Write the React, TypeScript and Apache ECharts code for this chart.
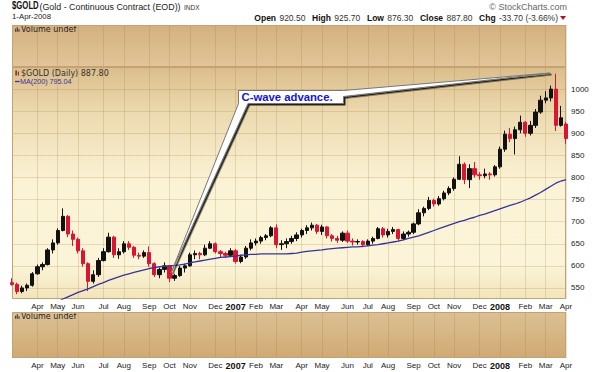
import React, { useEffect, useRef } from 'react';
import * as echarts from 'echarts';

// ---- categories: one per trading week, starting Monday 2006-02-27 ----
const START_UTC = Date.UTC(2006, 1, 27);
const WEEK_COUNT = 110;
const DAY = 86400000;
const MONTH_NAMES = ['Jan', 'Feb', 'Mar', 'Apr', 'May', 'Jun', 'Jul', 'Aug', 'Sep', 'Oct', 'Nov', 'Dec'];
const weekCategories: string[] = Array.from({ length: WEEK_COUNT }, (_, i) =>
  new Date(START_UTC + i * 7 * DAY).toISOString().slice(0, 10)
);

// ---- weekly OHLC ----
const opens = [
  562, 558, 542, 550, 556, 582, 598, 603, 636, 652, 680, 712, 672, 660, 634, 605, 565, 580, 612, 632,
  665, 625, 632, 650, 642, 624, 622, 630, 605, 580, 592, 600, 572, 578, 595, 600, 625, 628, 625, 640,
  650, 632, 628, 624, 634, 610, 620, 640, 652, 656, 664, 668, 686, 648, 650, 655, 662, 670, 680, 686,
  692, 678, 688, 668, 662, 658, 674, 656, 654, 655, 648, 656, 662, 684, 670, 678, 682, 662, 672, 676,
  695, 720, 730, 748, 740, 752, 765, 775, 796, 830, 795, 820, 806, 804, 808, 806, 824, 864, 898, 888,
  908, 925, 900, 918, 948, 975, 980, 1000, 918, 921,
];
const closes = [
  558, 542, 550, 556, 582, 598, 603, 636, 652, 680, 712, 672, 660, 634, 605, 565, 580, 612, 632, 665,
  625, 632, 650, 642, 624, 622, 630, 605, 580, 592, 600, 572, 578, 595, 600, 625, 628, 625, 640, 650,
  632, 628, 624, 634, 610, 620, 640, 652, 656, 664, 668, 686, 648, 650, 655, 662, 670, 680, 686, 692,
  678, 688, 668, 662, 658, 674, 656, 654, 655, 648, 656, 662, 684, 670, 678, 682, 662, 672, 676, 695,
  720, 730, 748, 740, 752, 765, 775, 796, 830, 795, 820, 806, 804, 808, 806, 824, 864, 898, 888, 908,
  925, 900, 918, 948, 975, 980, 1000, 918, 935, 888,
];
const lows = [
  555, 536, 538, 543, 553, 580, 590, 601, 628, 648, 678, 665, 645, 628, 598, 543, 560, 575, 610, 630,
  618, 616, 628, 636, 618, 615, 618, 598, 575, 572, 585, 563, 566, 575, 585, 598, 615, 615, 622, 638,
  628, 618, 618, 620, 605, 606, 616, 635, 646, 650, 658, 665, 640, 636, 640, 650, 656, 664, 672, 680,
  672, 670, 662, 655, 652, 654, 652, 646, 648, 642, 645, 650, 660, 664, 664, 672, 656, 658, 666, 672,
  692, 712, 726, 734, 736, 748, 760, 770, 794, 785, 776, 800, 795, 798, 795, 802, 820, 858, 880, 852,
  900, 892, 895, 912, 944, 968, 972, 905, 915, 876,
];
const highs = [
  572, 562, 555, 560, 586, 603, 608, 640, 660, 685, 730, 715, 680, 664, 640, 608, 590, 618, 640, 675,
  668, 640, 656, 656, 645, 630, 635, 644, 608, 596, 608, 602, 582, 600, 605, 630, 635, 632, 648, 656,
  653, 636, 632, 640, 638, 625, 645, 660, 662, 668, 672, 690, 694, 658, 662, 668, 676, 684, 692, 698,
  695, 693, 690, 672, 668, 678, 680, 662, 660, 658, 660, 666, 688, 688, 684, 688, 684, 678, 680, 698,
  728, 734, 756, 752, 758, 770, 780, 800, 848, 834, 830, 835, 812, 820, 812, 828, 870, 906, 912, 915,
  940, 928, 928, 955, 985, 995, 1008, 1035, 962, 926,
];
// 200-day moving average, sampled weekly (below 525 it is under the panel)
const ma200: (number | null)[] = [
  null, null, null, null, null, null, null, null, null, 518,
  525, 530, 535, 540, 544, 548, 553, 558, 562, 567,
  571, 575, 579, 582, 585, 588, 591, 594, 596, 598,
  599, 600, 601, 602, 604, 607, 609, 611, 613, 615,
  617, 619, 620, 621, 622, 624, 625, 626, 626, 627,
  627, 627, 627, 627, 627, 628, 629, 631, 633, 634,
  635, 636, 638, 639, 640, 641, 642, 643, 643, 644,
  645, 647, 648, 650, 652, 654, 656, 659, 662, 665,
  668, 672, 676, 680, 684, 688, 692, 696, 700, 703,
  707, 710, 714, 717, 721, 725, 729, 733, 737, 740,
  744, 749, 754, 760, 766, 773, 780, 787, 792, 795,
];

const HEADER_QUOTE = [
  ['Open', '920.50'],
  ['High', '925.70'],
  ['Low', '876.30'],
  ['Close', '887.80'],
  ['Chg', '-33.70 (-3.66%)'],
];

// month markers: the week whose Thursday first falls in a new month
const thu = (i: number) => new Date(START_UTC + (i * 7 + 3) * DAY);
const monthMark: string[] = weekCategories.map((_, i) => {
  if (i === 0) return '';
  const a = thu(i);
  const b = thu(i - 1);
  if (a.getUTCMonth() === b.getUTCMonth()) return '';
  return a.getUTCMonth() === 0 ? String(a.getUTCFullYear()) : MONTH_NAMES[a.getUTCMonth()];
});
const isMark = (idx: number) => monthMark[idx] !== '';

const SANS = '"Liberation Sans", Arial, sans-serif';
const VERD = '"DejaVu Sans", Verdana, sans-serif';

const PL = 12;
const PW = 554;
const TOP_VOL = { y: 25, h: 42 };
const MAIN = { y: 67, h: 232 };
const BOT_VOL = { y: 312, h: 46 };

export default function App() {
  const ref = useRef<HTMLDivElement>(null);
  useEffect(() => {
    if (!ref.current) return;
    const chart = echarts.init(ref.current, null, { renderer: 'svg' });
    const LG = echarts.graphic.LinearGradient;
    const gridColor = 'rgba(150,110,50,0.2)';

    const xBase = (gridIndex: number, showLabels: boolean) => ({
      type: 'category',
      gridIndex,
      data: weekCategories,
      boundaryGap: false,
      axisLine: { show: false },
      axisTick: { show: false },
      axisLabel: {
        show: showLabels,
        interval: (idx: number) => isMark(idx),
        formatter: (_v: string, idx: number) => {
          const m = monthMark[idx];
          return /^\d{4}$/.test(m) ? `{y|${m}}` : m;
        },
        margin: 3,
        fontSize: 8,
        fontFamily: SANS,
        color: '#222',
        rich: { y: { fontWeight: 'bold', fontSize: 9, fontFamily: SANS, color: '#111' } },
      },
      splitLine: {
        show: true,
        interval: (idx: number) => isMark(idx),
        lineStyle: { color: gridColor, width: 1 },
      },
    });

    const quoteRich: any = {
      b: { fontWeight: 'bold', fontSize: 8.5, fontFamily: SANS, fill: '#111' },
      v: { fontSize: 8.5, fontFamily: SANS, fill: '#333' },
    };
    const quoteText = HEADER_QUOTE.map(([k, v]) => `{b|${k}} {v|${v}}`).join('  ');

    const panelRect = (p: { y: number; h: number }, fill: any) => ({
      type: 'rect',
      z: -10,
      shape: { x: PL, y: p.y, width: PW, height: p.h },
      style: { fill },
      silent: true,
    });
    const panelBorder = (p: { y: number; h: number }) => ({
      type: 'rect',
      z: 1,
      shape: { x: PL + 0.5, y: p.y + 0.5, width: PW - 1, height: p.h - 1 },
      style: { fill: 'none', stroke: '#c4a272', lineWidth: 1 },
      silent: true,
    });

    const option: any = {
      animation: false,
      backgroundColor: '#ffffff',
      grid: [
        { left: PL, width: PW, top: TOP_VOL.y, height: TOP_VOL.h },
        { left: PL, width: PW, top: MAIN.y, height: MAIN.h },
        { left: PL, width: PW, top: BOT_VOL.y, height: BOT_VOL.h },
      ],
      xAxis: [xBase(0, false), xBase(1, true), xBase(2, true)],
      yAxis: [
        { type: 'value', gridIndex: 0, show: false },
        {
          type: 'value',
          gridIndex: 1,
          position: 'right',
          min: 525,
          max: 1050,
          interval: 25,
          axisLine: { show: false },
          axisTick: { show: false },
          axisLabel: {
            margin: 5,
            fontSize: 8,
            fontFamily: SANS,
            color: '#222',
            formatter: (v: number) => (v % 50 === 0 && v <= 1000 ? String(v) : ''),
          },
          splitLine: { show: true, lineStyle: { color: ['transparent', gridColor], width: 1 } },
        },
        { type: 'value', gridIndex: 2, show: false },
      ],
      series: [
        {
          type: 'candlestick',
          xAxisIndex: 1,
          yAxisIndex: 1,
          barWidth: 3.8,
          data: opens.map((o, i) => [o, closes[i], lows[i], highs[i]]),
          itemStyle: {
            color: '#111111',
            color0: '#dc1430',
            borderColor: '#111111',
            borderColor0: '#dc1430',
            borderWidth: 1,
          },
        },
        {
          type: 'line',
          xAxisIndex: 1,
          yAxisIndex: 1,
          data: ma200,
          showSymbol: false,
          clip: true,
          lineStyle: { color: '#34349c', width: 1.3 },
          z: 3,
        },
      ],
      graphic: [
        panelRect(TOP_VOL, new LG(0, 0, 0, 1, [
          { offset: 0, color: '#d4b07e' },
          { offset: 1, color: '#e1c699' },
        ])),
        panelRect(MAIN, new LG(0, 0, 0, 1, [
          { offset: 0, color: '#dbbd8b' },
          { offset: 0.2, color: '#ecdab0' },
          { offset: 0.5, color: '#fbf3d5' },
          { offset: 0.85, color: '#fbf4d8' },
          { offset: 1, color: '#f2e4bb' },
        ])),
        panelRect(BOT_VOL, new LG(0, 0, 0, 1, [
          { offset: 0, color: '#dcc194' },
          { offset: 1, color: '#cfa973' },
        ])),
        panelBorder(TOP_VOL),
        panelBorder(MAIN),
        panelBorder(BOT_VOL),
        // header
        {
          type: 'text', z: 10, x: 12, y: 6, scaleX: 0.74, scaleY: 1,
          style: { text: '$GOLD', fontSize: 10.5, fontWeight: 'bold', fontFamily: SANS, fill: '#111', verticalAlign: 'middle' },
        },
        {
          type: 'text', z: 10, x: 39.5, y: 6.5,
          style: { text: '(Gold - Continuous Contract (EOD))', fontSize: 8.9, fontFamily: SANS, fill: '#222', verticalAlign: 'middle' },
        },
        {
          type: 'text', z: 10, x: 184, y: 7,
          style: { text: 'INDX', fontSize: 6.5, fontFamily: SANS, fill: '#333', verticalAlign: 'middle' },
        },
        {
          type: 'text', z: 10, x: 12, y: 16,
          style: { text: '1-Apr-2008', fontSize: 7.8, fontFamily: SANS, fill: '#222', verticalAlign: 'middle' },
        },
        {
          type: 'text', z: 10, x: 567, y: 7,
          style: { text: '\u00A9 StockCharts.com', fontSize: 9, fontFamily: SANS, fill: '#666', align: 'right', verticalAlign: 'middle' },
        },
        {
          type: 'text', z: 10, x: 558, y: 18,
          style: { text: quoteText, rich: quoteRich, align: 'right', verticalAlign: 'middle' },
        },
        {
          type: 'polygon', z: 10,
          shape: { points: [[560, 16], [566, 16], [563, 20]] },
          style: { fill: '#b0102a' },
        },
        // volume labels
        ...[TOP_VOL.y + 4.8, BOT_VOL.y + 4.8].map((yy) => ({
          type: 'group', z: 10,
          children: [
            { type: 'rect', shape: { x: 15, y: yy - 1, width: 1.2, height: 3 }, style: { fill: '#444' } },
            { type: 'rect', shape: { x: 16.7, y: yy - 2.5, width: 1.2, height: 4.5 }, style: { fill: '#444' } },
            { type: 'rect', shape: { x: 18.4, y: yy - 0.5, width: 1.2, height: 2.5 }, style: { fill: '#444' } },
            {
              type: 'text', x: 21, y: yy,
              style: { text: 'Volume undef', fontSize: 8, fontFamily: VERD, fill: '#222', verticalAlign: 'middle' },
            },
          ],
        })),
        // price legend
        { type: 'rect', z: 10, shape: { x: 15.5, y: 70.5, width: 1.2, height: 5 }, style: { fill: '#222' } },
        { type: 'rect', z: 10, shape: { x: 17.8, y: 71.5, width: 1.2, height: 4 }, style: { fill: '#dc1430' } },
        {
          type: 'text', z: 10, x: 21, y: 73.3,
          style: { text: '$GOLD (Daily) 887.80', fontSize: 8, fontFamily: VERD, fill: '#333', verticalAlign: 'middle' },
        },
        { type: 'line', z: 10, shape: { x1: 15, y1: 81.5, x2: 19.5, y2: 81.5 }, style: { stroke: '#34349c', lineWidth: 1.3 } },
        {
          type: 'text', z: 10, x: 20, y: 81.8,
          style: { text: 'MA(200) 795.04', fontSize: 7.2, fontFamily: SANS, fill: '#34349c', verticalAlign: 'middle' },
        },
        // callout
        {
          type: 'polygon', z: 100,
          shape: {
            points: [
              [238.5, 90.5], [343.5, 90.5], [550, 73], [343.5, 96.5], [343.5, 103.5],
              [248, 103.5], [171, 273], [238.5, 103.5],
            ],
          },
          style: {
            fill: '#ffffff', stroke: '#777', lineWidth: 1,
            shadowColor: 'rgba(0,0,0,0.85)', shadowOffsetX: 1.5, shadowOffsetY: 1.5, shadowBlur: 0.5,
          },
        },
        {
          type: 'text', z: 101, x: 241.5, y: 97.2,
          style: { text: 'C-wave advance.', fontSize: 11.3, fontWeight: 'bold', fontFamily: SANS, fill: '#1414d8', verticalAlign: 'middle' },
        },
      ],
    };
    chart.setOption(option);
    return () => chart.dispose();
  }, []);
  return (
    <div
      ref={ref}
      style={{ position: 'fixed', left: 0, top: 0, width: 600, height: 372, background: '#fff' }}
    />
  );
}
